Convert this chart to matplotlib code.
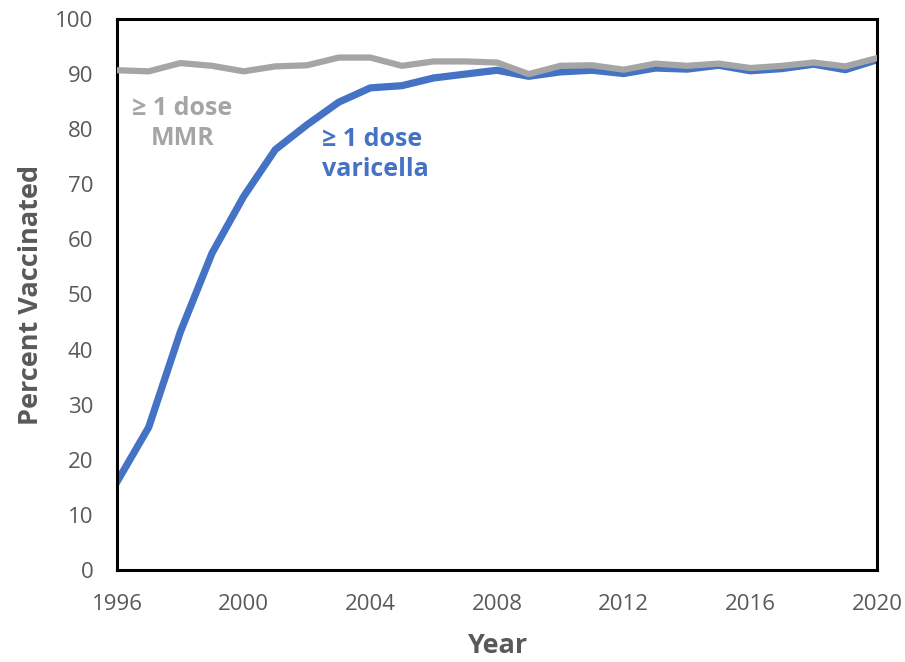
import matplotlib
matplotlib.use("Agg")
import matplotlib.pyplot as plt

years = list(range(1996, 2021))
mmr = [90.7, 90.5, 92.0, 91.5, 90.5, 91.4, 91.6, 93.0, 93.0, 91.5, 92.3, 92.3, 92.1,
       90.0, 91.5, 91.6, 90.8, 91.9, 91.5, 91.9, 91.1, 91.5, 92.1, 91.4, 92.9]
varicella = [16.0, 25.9, 43.2, 57.5, 67.8, 76.3, 80.8, 84.9, 87.5, 87.9, 89.3, 90.0, 90.7,
             89.6, 90.4, 90.7, 90.1, 91.1, 90.9, 91.6, 90.6, 91.0, 91.8, 90.8, 92.6]
xticks = [1996, 2000, 2004, 2008, 2012, 2016, 2020]
yticks = list(range(0, 101, 10))

plt.rcParams['font.family'] = ['Open Sans', 'DejaVu Sans']

fig = plt.figure(figsize=(9.05, 6.62), dpi=100)
ax = fig.add_axes([0.1293, 0.139, 0.8398, 0.8323])

blue = '#4472C4'
gray = '#A5A5A5'
ax.plot(years, varicella, color=blue, lw=5.2, solid_joinstyle='round', zorder=2)
ax.plot(years, mmr, color=gray, lw=4.5, solid_joinstyle='round', zorder=3)

ax.set_xlim(1996, 2020)
ax.set_ylim(0, 100)
ax.set_xticks(xticks)
ax.set_yticks(yticks)
ax.tick_params(length=0, labelsize=16, labelcolor='#595959')
ax.tick_params(axis='y', pad=17)
ax.tick_params(axis='x', pad=17)
for s in ax.spines.values():
    s.set_linewidth(2.2)
    s.set_color('black')

ax.set_xlabel('Year', fontsize=19.5, fontweight='bold', color='#595959', labelpad=13)
ax.set_ylabel('Percent Vaccinated', fontsize=19.5, fontweight='bold', color='#595959', labelpad=8)

ax.text(0.086, 0.81, '\u2265 1 dose\nMMR', transform=ax.transAxes, fontsize=18,
        fontweight='bold', color=gray, ha='center', va='center', linespacing=1.25,
        multialignment='center')
ax.text(0.270, 0.754, '\u2265 1 dose\nvaricella', transform=ax.transAxes, fontsize=18,
        fontweight='bold', color=blue, ha='left', va='center', linespacing=1.25)

fig.savefig('out.png', dpi=100)
